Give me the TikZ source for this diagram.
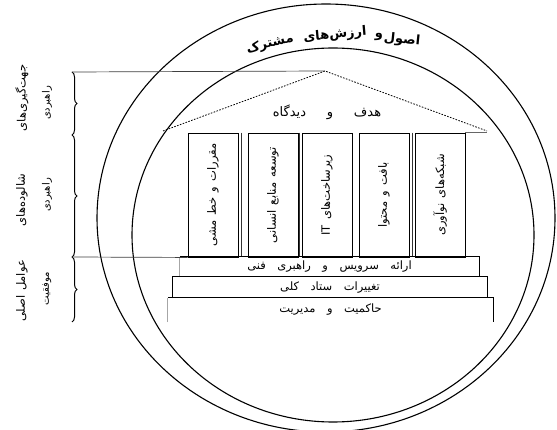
\documentclass[tikz,border=0pt]{standalone}
\usepackage{fontspec}
\newfontfamily\fa[Script=Arabic]{DejaVu Sans}
\TeXXeTstate=1
\usetikzlibrary{decorations.pathreplacing}
\newcommand\fatext[1]{{\fa\beginR #1\endR}}
\newcommand\fawtext[2][1em]{{\fa\spaceskip=#1\relax\beginR #2\endR}}
\begin{document}
\begin{tikzpicture}[x=1pt,y=-1pt,
  ring/.style={line width=1.1pt},
  pillar/.style={draw,line width=0.9pt,minimum width=50pt,minimum height=124pt,inner sep=0pt},
  ptext/.style={rotate=90,inner sep=0pt,font=\fontsize{11.5}{13}\selectfont},
  roofline/.style={line width=0.8pt,dash pattern=on 1.6pt off 1.4pt},
  guide/.style={line width=0.7pt,black!75},
  shadowline/.style={line width=0.7pt,black!80},
  stepbox/.style={inner sep=0pt,font=\fontsize{11.5}{12}\selectfont},
  leftlabel/.style={rotate=90,inner sep=0pt},
  bracestyle/.style={decorate,decoration={brace,amplitude=5pt},line width=1pt},
  toptext/.style={font=\fontsize{13}{15}\selectfont\bfseries,inner sep=0pt}
]
\useasboundingbox (0,0) rectangle (557,430);
\fill[white] (0,0) rectangle (557,430);
% circles
\draw[ring] (326,218) ellipse [x radius=229,y radius=214];
\draw[ring] (333,235) ellipse [x radius=201,y radius=187];
% top arc text
\node[toptext,rotate=14] (w4) at (270,44) {\fatext{مشترک}};
\node[toptext,rotate=5] (w3) at (335,35) {\fatext{ارزش^^^^200cهای}};
\node[toptext] (w2) at (379,37) {\fatext{و}};
\node[toptext,rotate=-6] (w1) at (402,40) {\fatext{اصول}};
% roof
\coordinate (apex) at (325,71);
\coordinate (rl) at (163,131);
\coordinate (rr) at (487,131);
\draw[roofline] (rl) -- (apex) -- (rr);
\node[font=\fontsize{13}{15}\selectfont] (goal) at (327,112) {\fawtext[1.6em]{هدف و دیدگاه}};
% pillars
\node[pillar] (p1) at (213,195) {};
\node[pillar] (p2) at (273,195) {};
\node[pillar] (p3) at (327,195) {};
\node[pillar] (p4) at (384,195) {};
\node[pillar] (p5) at (440,195) {};
\node[ptext] (t1) at (p1) {\fawtext[0.45em]{مقررات و خط مشی}};
\node[ptext] (t2) at (p2) {\fawtext[0.45em]{توسعه منابع انسانی}};
\node[ptext] (t3) at (p3) {\fawtext[0.45em]{زیرساخت^^^^200cهای \beginL IT\endL}};
\node[ptext] (t4) at (p4) {\fawtext[0.45em]{بافت و محتوا}};
\node[ptext] (t5) at (p5) {\fawtext[0.45em]{شبکه^^^^200cهای نوآوری}};
\draw[shadowline] ([xshift=3pt]p1.north east) -- ([xshift=3pt]p1.south east);
\draw[shadowline] ([xshift=-2pt]p3.north west) -- ([xshift=-2pt]p3.south west);
\draw[shadowline] ([xshift=3pt]p4.north east) -- ([xshift=3pt]p4.south east);
\draw[black!60,line width=0.9pt] (p5.north east) -- (rr |- p5.north);
% steps
\node[stepbox,minimum width=299pt,minimum height=20pt] (s1) at (329.5,267) {\fawtext{ارائه سرویس و راهبری فنی}};
\node[stepbox,minimum width=314pt,minimum height=21pt] (s2) at (330,287.5) {\fawtext{تغییرات ستاد کلی}};
\node[stepbox,minimum width=325pt,minimum height=24pt] (s3) at (330.5,310) {\fawtext{حاکمیت و مدیریت}};
\draw[black!35,line width=0.8pt] (s1.south west) -- (s1.north west);
\draw[line width=0.9pt] (s1.north west) -- (s1.north east) -- (s1.south east);
\draw[line width=0.9pt] (s2.south west) -- (s2.north west) -- (s2.north east) -- (s2.south east);
\draw[black!35,line width=0.8pt] (s3.south west) -- (s3.north west);
\draw[line width=0.9pt] (s3.north west) -- (s3.north east) -- (s3.south east);
% braces and guides
\coordinate (bA) at (72,72);
\coordinate (bB) at (72,135);
\coordinate (bC) at (72,257);
\coordinate (bD) at (72,322);
\draw[bracestyle] (bA) -- (bB);
\draw[bracestyle] (bB) -- (bC);
\draw[bracestyle] (bC) -- (bD);
\draw[guide] (bA) -- (apex);
\draw[guide] (bC) -- (p1.south west);
% left labels
\node[leftlabel,font=\fontsize{11.5}{13}\selectfont] (l1a) at (22,98) {\fatext{جهت^^^^200cگیری^^^^200cهای}};
\node[leftlabel,font=\fontsize{10}{12}\selectfont] (l1b) at (47,103) {\fatext{راهبردی}};
\node[leftlabel,font=\fontsize{11.5}{13}\selectfont] (l2a) at (22,200) {\fatext{شالوده^^^^200cهای}};
\node[leftlabel,font=\fontsize{10}{12}\selectfont] (l2b) at (47,195) {\fatext{راهبردی}};
\node[leftlabel,font=\fontsize{11.5}{13}\selectfont] (l3a) at (22,291) {\fawtext[0.4em]{عوامل اصلی}};
\node[leftlabel,font=\fontsize{10}{12}\selectfont] (l3b) at (47,289) {\fatext{موفقیت}};
\end{tikzpicture}
\end{document}
